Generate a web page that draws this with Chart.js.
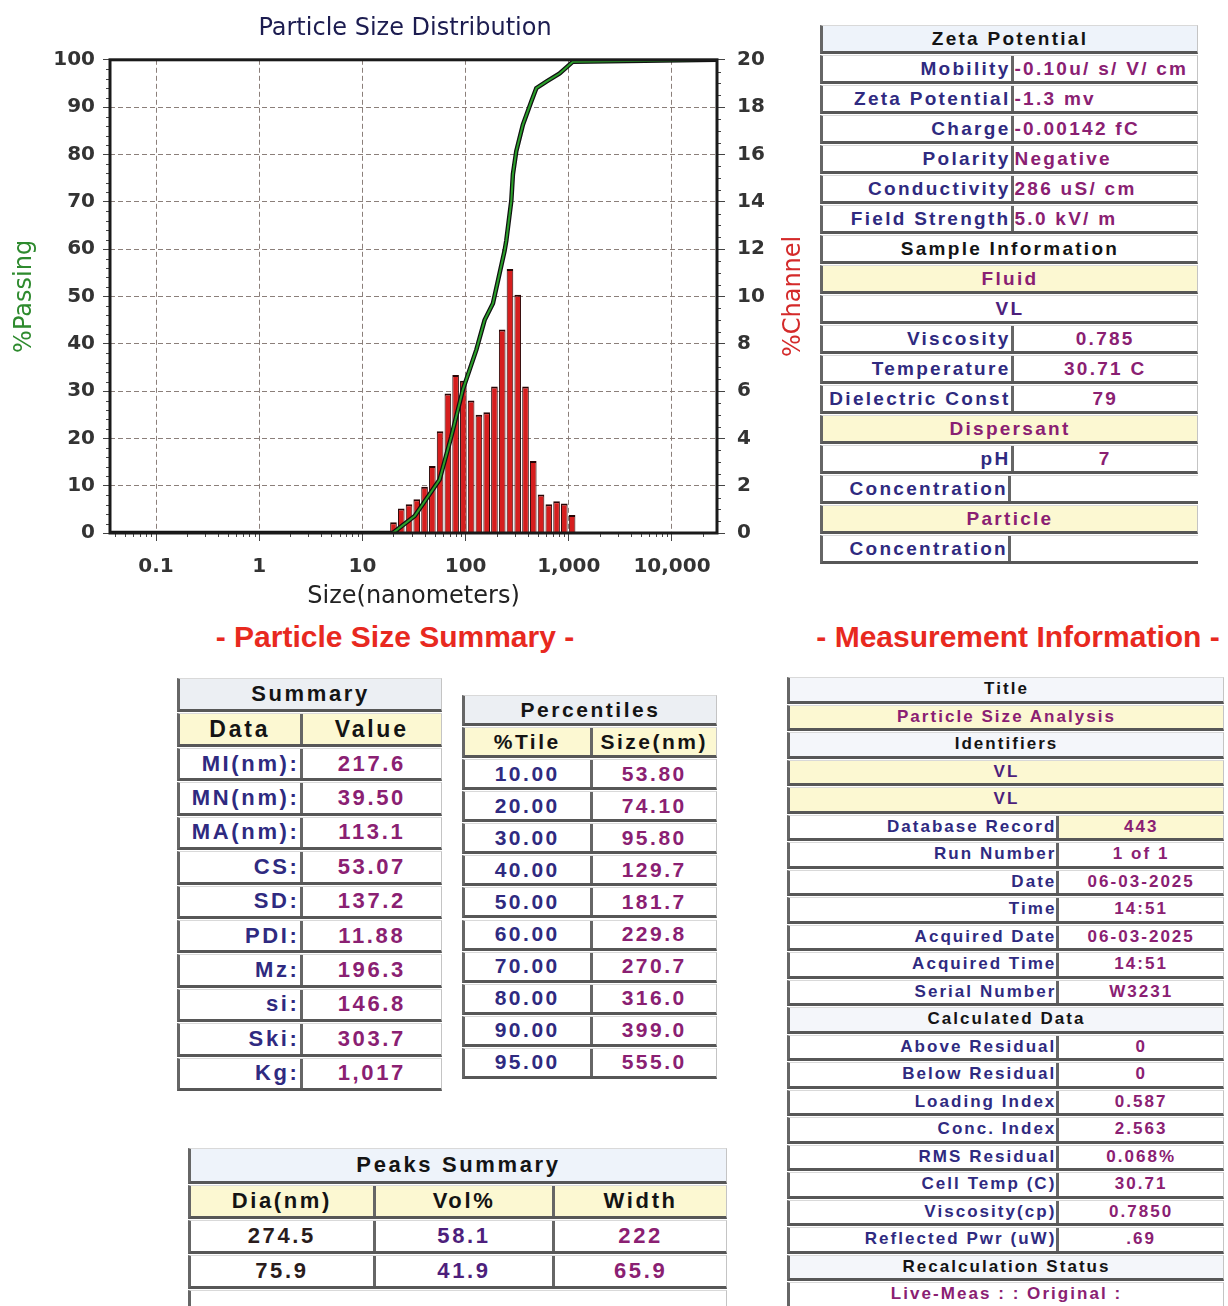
<!DOCTYPE html>
<html>
<head>
<meta charset="utf-8">
<script src="https://cdn.jsdelivr.net/npm/chart.js@4.4.1/dist/chart.umd.min.js"></script>
<style>
  html, body { margin: 0; padding: 0; background: #fff; }
  body { width: 1228px; height: 1306px; position: relative; overflow: hidden;
         font-family: 'Liberation Sans', Arial, sans-serif; }
  #psd { position: absolute; left: 0; top: 0; }
  .heading { position: absolute; font: bold 30px 'Liberation Sans', Arial, sans-serif;
             color: #e8291f; white-space: nowrap; transform: translate(-50%, -50%); }
  .row { position: absolute; box-sizing: border-box; display: flex;
         border-top: 1px solid #d9d9d9; border-bottom: 3px solid #575757;
         border-left: 3px solid #666; border-right: 1px solid #c4c4c4;
         font-weight: bold; letter-spacing: 0.12em; white-space: nowrap; }
  .cell { box-sizing: border-box; height: 100%; display: flex; align-items: center; overflow: visible; }
  .cell + .cell { border-left: 3px solid #666; }
  .al { justify-content: flex-start; padding-left: 1px; }
  .ar { justify-content: flex-end; padding-right: 0; }
  .ac { justify-content: center; }
</style>
</head>
<body>
<canvas id="psd" width="810" height="615"></canvas>
<div class="heading" style="left:395px; top:637px;">- Particle Size Summary -</div>
<div class="heading" style="left:1018px; top:637px;">- Measurement Information -</div>

<script>
// ---- Particle size distribution data ----
// channel mid-point sizes (nm) and volume % in each channel
const sizeNm = [20.0, 23.8, 28.3, 33.6, 40.0, 47.6, 56.6, 67.3, 80.0, 95.1, 113.1, 134.5,
                160.0, 190.3, 226.3, 269.1, 320.0, 380.6, 452.5, 538.2, 640.0, 761.1, 905.1, 1076.3];
const channelPct = [0.45, 1.04, 1.22, 1.43, 1.95, 2.83, 4.30, 5.90, 6.68, 6.43, 5.60, 5.00,
                    5.10, 6.19, 8.60, 11.16, 10.07, 6.19, 3.04, 1.63, 1.22, 1.34, 1.25, 0.76];

// cumulative % passing curve
const passSizeNm = [0.0358, 19.6, 20.5, 32.1, 56.0, 72.7, 94.1, 127.0, 152.8, 183.9, 238.8, 247.9,
                    277.2, 287.3, 309.8, 359.2, 433.2, 484.4, 605.6, 814.5, 1095.5, 27300];
const passingPct = [0, 0, 0.3, 3.6, 11.3, 20.4, 30.3, 38.7, 45.0, 48.5, 59.7, 61.8,
                    70.2, 75.8, 80.7, 86.3, 91.2, 94.0, 95.4, 97.1, 99.6, 100];

// axis ticks
const xTickValues = [0.1, 1, 10, 100, 1000, 10000];
const xTickLabels = ['0.1', '1', '10', '100', '1,000', '10,000'];
const passingTicks = [0, 10, 20, 30, 40, 50, 60, 70, 80, 90, 100];
const channelTicks = [0, 2, 4, 6, 8, 10, 12, 14, 16, 18, 20];

const TITLE = 'Particle Size Distribution';
const X_TITLE = 'Size(nanometers)';
const Y_TITLE = '%Passing';
const Y2_TITLE = '%Channel';

const GRID = '#8b7f7a';
const TICK_FONT = { family: 'DejaVu Sans', size: 20, weight: 'bold' };

const barPoints = sizeNm.map((s, i) => ({ x: s, y: channelPct[i] }));
const passPoints = passSizeNm.map((s, i) => ({ x: s, y: passingPct[i] }));

// frame round the plot, minor ticks and the right-hand axis title
const framePlugin = {
  id: 'frame',
  afterDatasetsDraw(chart) {
    const { ctx, chartArea: a, scales } = chart;
    ctx.save();
    ctx.strokeStyle = '#444';
    ctx.lineWidth = 1;
    ctx.beginPath();
    for (let v = 0; v <= 100; v += 2) {
      if (v % 10 === 0) continue;
      const y = Math.round(scales.y.getPixelForValue(v)) + 0.5;
      ctx.moveTo(a.left - 4, y); ctx.lineTo(a.left, y);
    }
    for (let v = 0; v <= 20; v += 0.5) {
      if (v % 2 === 0) continue;
      const y = Math.round(scales.y2.getPixelForValue(v)) + 0.5;
      ctx.moveTo(a.right, y); ctx.lineTo(a.right + 4, y);
    }
    for (let d = 0.01; d < 100000; d *= 10) {
      for (let k = 2; k <= 9; k++) {
        const v = d * k;
        if (v < scales.x.min || v > scales.x.max) continue;
        const x = Math.round(scales.x.getPixelForValue(v)) + 0.5;
        ctx.moveTo(x, a.bottom); ctx.lineTo(x, a.bottom + 4);
      }
    }
    ctx.stroke();

    ctx.strokeStyle = '#1a1a1a';
    ctx.lineWidth = 3;
    ctx.strokeRect(a.left, a.top, a.right - a.left, a.bottom - a.top);

    ctx.translate(794, (a.top + a.bottom) / 2);
    ctx.rotate(-Math.PI / 2);
    ctx.fillStyle = '#d42a2a';
    ctx.font = '24px "DejaVu Sans"';
    ctx.textAlign = 'center';
    ctx.textBaseline = 'middle';
    ctx.fillText(Y2_TITLE, 0, 0);
    ctx.restore();
  }
};

new Chart(document.getElementById('psd'), {
  type: 'bar',
  data: {
    datasets: [
      { type: 'line', data: passPoints, yAxisID: 'y', borderColor: '#2aa02a', borderWidth: 2,
        pointRadius: 0, tension: 0, order: 0 },
      { type: 'line', data: passPoints, yAxisID: 'y', borderColor: '#111', borderWidth: 4.5,
        pointRadius: 0, tension: 0, order: 1 },
      { type: 'bar', data: barPoints, yAxisID: 'y2', backgroundColor: '#d61e1e',
        borderColor: '#2a0606', borderWidth: { top: 2, left: 1, right: 1, bottom: 0 },
        borderSkipped: 'bottom', barPercentage: 0.86, categoryPercentage: 1, order: 2 }
    ]
  },
  options: {
    responsive: false,
    devicePixelRatio: 1,
    animation: false,
    layout: { padding: 0 },
    plugins: {
      legend: { display: false },
      tooltip: { enabled: false },
      title: { display: true, text: TITLE, color: '#1c1c50',
               font: { family: 'DejaVu Sans', size: 24, weight: 'normal' },
               padding: { top: 14, bottom: 17 } }
    },
    scales: {
      x: {
        type: 'logarithmic', min: 0.0358, max: 27300, offset: false,
        afterFit(s) { s.height = 82; },
        afterBuildTicks(s) { s.ticks = xTickValues.map(v => ({ value: v })); },
        ticks: { autoSkip: false, maxRotation: 0, color: '#333', font: TICK_FONT, padding: 14,
                 callback: (v, i) => xTickLabels[i] },
        grid: { color: GRID, lineWidth: 1, offset: false, drawTicks: true, tickLength: 8, tickColor: '#444' },
        border: { display: false, dash: [5, 3] },
        title: { display: true, text: X_TITLE, color: '#222',
                 font: { family: 'DejaVu Sans', size: 24 }, padding: { top: 0, bottom: 4 } }
      },
      y: {
        position: 'left', min: 0, max: 100,
        afterFit(s) { s.width = 110; },
        afterBuildTicks(s) { s.ticks = passingTicks.map(v => ({ value: v })); },
        ticks: { color: '#333', font: TICK_FONT, padding: 8, autoSkip: false },
        grid: { color: GRID, lineWidth: 1, tickLength: 7, tickColor: '#444' },
        border: { display: false, dash: [5, 3] },
        title: { display: true, text: Y_TITLE, color: '#2e8a2e',
                 font: { family: 'DejaVu Sans', size: 24 }, padding: { top: 10, bottom: 0 } }
      },
      y2: {
        position: 'right', min: 0, max: 20,
        afterFit(s) { s.width = 93; },
        afterBuildTicks(s) { s.ticks = channelTicks.map(v => ({ value: v })); },
        ticks: { color: '#333', font: TICK_FONT, padding: 12, autoSkip: false },
        grid: { drawOnChartArea: false, tickLength: 8, tickColor: '#444' },
        border: { display: false }
      }
    }
  },
  plugins: [framePlugin]
});

// ---- report tables ----
const NAVY = '#2f2a80', MAG = '#8a2072', BLK = '#141414', PURP = '#4d1f7c';
const YEL = '#fcf8d2', HDR = '#eef3fa', HDR2 = '#eceff3';

function buildTable(box, rows) {
  let y = box.y;
  rows.forEach((r, i) => {
    const h = box.heights ? box.heights[i] : box.rowH;
    const row = document.createElement('div');
    row.className = 'row';
    Object.assign(row.style, {
      left: box.x + 'px', top: y + 'px', width: box.w + 'px', height: (h - 1) + 'px',
      fontSize: (r.fs || box.fs) + 'px', background: r.bg || '#fff'
    });
    if (r.noRight) row.style.borderRight = 'none';
    (r.cells || []).forEach((c, j) => {
      const cell = document.createElement('div');
      cell.className = 'cell a' + (c.a || 'c');
      const w = r.cells.length === 1 && !r.keyOnly ? box.w - 4 : box.cols[j] - (j === 0 ? 3 : 0);
      cell.style.width = w + 'px';
      cell.style.color = c.c || BLK;
      if (c.bg) cell.style.background = c.bg;
      cell.textContent = c.t;
      if (r.keyOnly) cell.style.borderRight = '3px solid #666';
      row.appendChild(cell);
    });
    document.body.appendChild(row);
    y += h;
  });
}

const head = (t, bg) => ({ bg: bg || HDR, cells: [{ t, c: BLK }] });
const full = (t, c, bg) => ({ bg: bg || '#fff', cells: [{ t, c }] });
const kv = (k, v, a, vbg) => ({ cells: [{ t: k, c: NAVY, a: 'r' }, { t: v, c: MAG, a: a || 'c', bg: vbg }] });
const keyOnly = k => ({ keyOnly: true, noRight: true, cells: [{ t: k, c: NAVY, a: 'r' }] });

buildTable({ x: 820, y: 25, w: 378, cols: [191, 187], rowH: 30, fs: 19 }, [
  head('Zeta Potential'),
  kv('Mobility', '-0.10u/ s/ V/ cm', 'l'),
  kv('Zeta Potential', '-1.3 mv', 'l'),
  kv('Charge', '-0.00142 fC', 'l'),
  kv('Polarity', 'Negative', 'l'),
  kv('Conductivity', '286 uS/ cm', 'l'),
  kv('Field Strength', '5.0 kV/ m', 'l'),
  head('Sample Information', '#fff'),
  full('Fluid', MAG, YEL),
  full('VL', PURP),
  kv('Viscosity', '0.785'),
  kv('Temperature', '30.71 C'),
  kv('Dielectric Const', '79'),
  full('Dispersant', MAG, YEL),
  kv('pH', '7'),
  keyOnly('Concentration'),
  full('Particle', MAG, YEL),
  keyOnly('Concentration')
]);

buildTable({ x: 177, y: 678, w: 265, cols: [123, 142], fs: 22,
             heights: [35, 35, 34.4, 34.4, 34.4, 34.4, 34.4, 34.4, 34.4, 34.4, 34.4, 34.4] }, [
  head('Summary', HDR2),
  { bg: YEL, fs: 23, cells: [{ t: 'Data', c: BLK }, { t: 'Value', c: BLK }] },
  kv('MI(nm):', '217.6'),
  kv('MN(nm):', '39.50'),
  kv('MA(nm):', '113.1'),
  kv('CS:', '53.07'),
  kv('SD:', '137.2'),
  kv('PDI:', '11.88'),
  kv('Mz:', '196.3'),
  kv('si:', '146.8'),
  kv('Ski:', '303.7'),
  kv('Kg:', '1,017')
]);

const pct = (p, s) => ({ cells: [{ t: p, c: NAVY }, { t: s, c: MAG }] });
buildTable({ x: 462, y: 695, w: 255, cols: [128, 127], fs: 21,
             heights: [32, 32, 32.1, 32.1, 32.1, 32.1, 32.1, 32.1, 32.1, 32.1, 32.1, 32.1] }, [
  head('Percentiles', HDR2),
  { bg: YEL, cells: [{ t: '%Tile', c: BLK }, { t: 'Size(nm)', c: BLK }] },
  pct('10.00', '53.80'), pct('20.00', '74.10'), pct('30.00', '95.80'), pct('40.00', '129.7'),
  pct('50.00', '181.7'), pct('60.00', '229.8'), pct('70.00', '270.7'), pct('80.00', '316.0'),
  pct('90.00', '399.0'), pct('95.00', '555.0')
]);

const peak = (d, v, w) => ({ cells: [{ t: d, c: '#2a1c1c' }, { t: v, c: PURP }, { t: w, c: MAG }] });
buildTable({ x: 188, y: 1148, w: 539, cols: [185, 180, 174], fs: 22, heights: [37, 35, 35, 35, 22] }, [
  head('Peaks Summary'),
  { bg: YEL, cells: [{ t: 'Dia(nm)', c: BLK }, { t: 'Vol%', c: BLK }, { t: 'Width', c: BLK }] },
  peak('274.5', '58.1', '222'),
  peak('75.9', '41.9', '65.9'),
  { cells: [] }
]);

buildTable({ x: 787, y: 677, w: 437, cols: [270, 167], rowH: 27.5, fs: 17 }, [
  head('Title', '#f4f6fa'),
  full('Particle Size Analysis', MAG, YEL),
  head('Identifiers', '#f4f6fa'),
  full('VL', PURP, YEL),
  full('VL', PURP, YEL),
  kv('Database Record', '443', 'c', YEL),
  kv('Run Number', '1 of 1'),
  kv('Date', '06-03-2025'),
  kv('Time', '14:51'),
  kv('Acquired Date', '06-03-2025'),
  kv('Acquired Time', '14:51'),
  kv('Serial Number', 'W3231'),
  head('Calculated Data', '#f4f6fa'),
  kv('Above Residual', '0'),
  kv('Below Residual', '0'),
  kv('Loading Index', '0.587'),
  kv('Conc. Index', '2.563'),
  kv('RMS Residual', '0.068%'),
  kv('Cell Temp (C)', '30.71'),
  kv('Viscosity(cp)', '0.7850'),
  kv('Reflected Pwr (uW)', '.69'),
  head('Recalculation Status', '#f4f6fa'),
  full('Live-Meas : : Original :', MAG)
]);
</script>
</body>
</html>
